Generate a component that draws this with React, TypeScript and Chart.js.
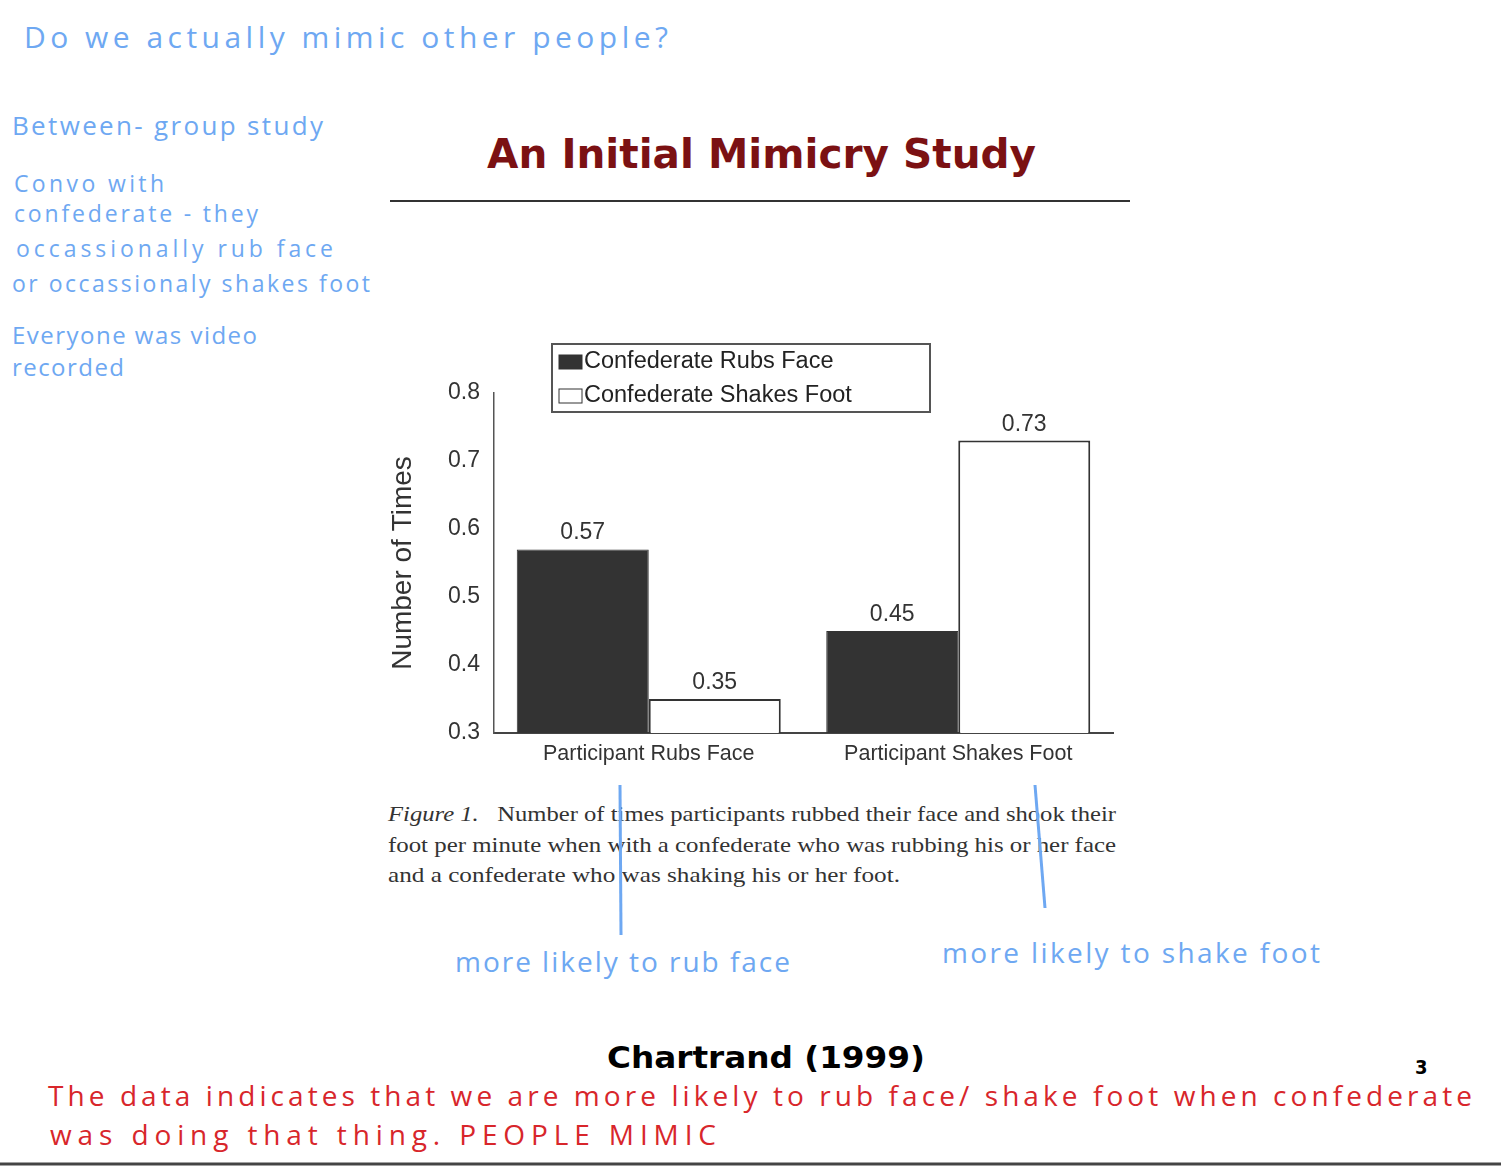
import React, { useEffect, useRef } from "react";
import { Chart, registerables } from "chart.js";

Chart.register(...registerables);

const categories = ["Participant Rubs Face", "Participant Shakes Foot"];
const seriesLabels = ["Confederate Rubs Face", "Confederate Shakes Foot"];
const rubsFaceValues = [0.57, 0.45];
const shakesFootValues = [0.35, 0.73];
const yMin = 0.3;
const yMax = 0.8;
const yStep = 0.1;
const yTitle = "Number of Times";

const BLUE = "#6ea8f2";
const RED = "#d8262b";
const SANS = "'Liberation Sans', Arial, sans-serif";

const legendPlugin = {
  id: "boxLegend",
  afterDraw(chart: any) {
    const ctx = chart.ctx;
    ctx.save();
    const x0 = 172, y0 = 14, w = 378, h = 68;
    ctx.strokeStyle = "#555";
    ctx.lineWidth = 2;
    ctx.strokeRect(x0, y0, w, h);
    ctx.font = `23.5px ${SANS}`;
    ctx.textBaseline = "middle";
    chart.data.datasets.forEach((ds: any, i: number) => {
      const cy = y0 + 18 + i * 34;
      ctx.fillStyle = ds.backgroundColor;
      ctx.fillRect(x0 + 7, cy - 7, 23, 14);
      ctx.strokeStyle = "#333";
      ctx.lineWidth = 1;
      ctx.strokeRect(x0 + 7, cy - 7, 23, 14);
      ctx.fillStyle = "#222";
      ctx.fillText(ds.label, x0 + 32, cy);
    });
    ctx.restore();
  },
};

const valueLabelPlugin = {
  id: "valueLabels",
  afterDatasetsDraw(chart: any) {
    const ctx = chart.ctx;
    ctx.save();
    ctx.font = `23px ${SANS}`;
    ctx.fillStyle = "#333";
    ctx.textAlign = "center";
    ctx.textBaseline = "alphabetic";
    chart.data.datasets.forEach((ds: any, di: number) => {
      const meta = chart.getDatasetMeta(di);
      meta.data.forEach((bar: any, i: number) => {
        ctx.fillText(Number(ds.data[i]).toFixed(2), bar.x, bar.y - 10);
      });
    });
    ctx.restore();
  },
};

function BarChart() {
  const ref = useRef<HTMLCanvasElement | null>(null);
  useEffect(() => {
    if (!ref.current) return;
    const chart = new Chart(ref.current, {
      type: "bar",
      data: {
        labels: categories,
        datasets: [
          {
            label: seriesLabels[0],
            data: rubsFaceValues,
            backgroundColor: "#333333",
            borderColor: "#333333",
            borderWidth: 1,
            barPercentage: 1,
            categoryPercentage: 0.853,
          },
          {
            label: seriesLabels[1],
            data: shakesFootValues,
            backgroundColor: "#ffffff",
            borderColor: "#333333",
            borderWidth: 2,
            barPercentage: 1,
            categoryPercentage: 0.853,
          },
        ],
      },
      options: {
        responsive: false,
        animation: false,
        layout: { padding: { top: 63, right: 27, left: 0, bottom: 0 } },
        plugins: {
          legend: { display: false },
          tooltip: { enabled: false },
          title: { display: false },
        },
        scales: {
          x: {
            grid: { display: false, drawTicks: false },
            border: { display: true, color: "#444", width: 2 },
            ticks: {
              padding: 8,
              color: "#333",
              font: { family: SANS, size: 21.5 },
            },
            afterFit(scale: any) {
              scale.height = 57;
            },
          },
          y: {
            min: yMin,
            max: yMax,
            grid: { display: false, drawTicks: false },
            border: { display: true, color: "#555", width: 1.5 },
            ticks: {
              stepSize: yStep,
              padding: 14,
              color: "#333",
              font: { family: SANS, size: 23 },
              callback: (v: any) => Number(v).toFixed(1),
            },
            title: {
              display: true,
              text: yTitle,
              color: "#333",
              padding: { top: 6, bottom: 0 },
              font: { family: SANS, size: 28 },
            },
            afterFit(scale: any) {
              scale.width = 114;
            },
          },
        },
      },
      plugins: [legendPlugin, valueLabelPlugin],
    } as any);
    return () => chart.destroy();
  }, []);
  return (
    <canvas
      ref={ref}
      width={760}
      height={460}
      style={{ position: "absolute", left: 380, top: 330, width: 760, height: 460 }}
    />
  );
}

type T = { t: string; x: number; y: number; len: number; size: number; color: string };

const hand = "'Open Sans', 'Noto Sans', sans-serif";

const notes: T[] = [
  { t: "Do we actually mimic other people?", x: 24, y: 48, len: 644, size: 30, color: BLUE },
  { t: "Between- group study", x: 12, y: 135, len: 311, size: 26, color: BLUE },
  { t: "Convo with", x: 14, y: 192, len: 150, size: 23, color: BLUE },
  { t: "confederate - they", x: 14, y: 222, len: 244, size: 23, color: BLUE },
  { t: "occassionally rub face", x: 16, y: 257, len: 317, size: 23, color: BLUE },
  { t: "or occassionaly shakes foot", x: 12, y: 292, len: 358, size: 23, color: BLUE },
  { t: "Everyone was video", x: 12, y: 344, len: 245, size: 24, color: BLUE },
  { t: "recorded", x: 12, y: 376, len: 112, size: 24, color: BLUE },
  { t: "more likely to rub face", x: 455, y: 972, len: 335, size: 28, color: BLUE },
  { t: "more likely to shake foot", x: 942, y: 963, len: 378, size: 28, color: BLUE },
  { t: "The data indicates that we are more likely to rub face/ shake foot when confederate", x: 48, y: 1106, len: 1424, size: 28, color: RED },
  { t: "was doing that thing. PEOPLE MIMIC", x: 50, y: 1145, len: 666, size: 28, color: RED },
];

export default function App() {
  return (
    <div style={{ position: "absolute", left: 0, top: 0, width: 1501, height: 1166, background: "#fff", overflow: "hidden" }}>
      <svg width={1501} height={1166} style={{ position: "absolute", left: 0, top: 0 }}>
        <text x={487} y={168} textLength={549} lengthAdjust="spacingAndGlyphs" fill="#7b1113"
          style={{ font: "bold 40px 'DejaVu Sans', Verdana, sans-serif" }}>An Initial Mimicry Study</text>
        <line x1={390} y1={201} x2={1130} y2={201} stroke="#333" strokeWidth={2} />
        <text x={388} y={821} textLength={728} lengthAdjust="spacingAndGlyphs" fill="#333"
          style={{ font: "21px 'Liberation Serif', 'Times New Roman', serif" }}>
          <tspan fontStyle="italic">Figure 1.</tspan>
          <tspan>{"\u00a0\u00a0\u00a0Number of times participants rubbed their face and shook their"}</tspan>
        </text>
        <text x={388} y={852} textLength={728} lengthAdjust="spacingAndGlyphs" fill="#333"
          style={{ font: "21px 'Liberation Serif', 'Times New Roman', serif" }}>foot per minute when with a confederate who was rubbing his or her face</text>
        <text x={388} y={882} textLength={512} lengthAdjust="spacingAndGlyphs" fill="#333"
          style={{ font: "21px 'Liberation Serif', 'Times New Roman', serif" }}>and a confederate who was shaking his or her foot.</text>
        <text x={607} y={1068} textLength={318} lengthAdjust="spacingAndGlyphs" fill="#000"
          style={{ font: "bold 31px 'DejaVu Sans Condensed', 'DejaVu Sans', sans-serif" }}>Chartrand (1999)</text>
        <text x={1415} y={1074} fill="#000" style={{ font: "bold 20px 'DejaVu Sans Condensed', sans-serif" }}>3</text>
        {notes.map((n, i) => (
          <text key={i} x={n.x} y={n.y} textLength={n.len} lengthAdjust="spacing" fill={n.color}
            style={{ font: `${n.size}px ${hand}` }}>{n.t}</text>
        ))}
        <line x1={0} y1={1164} x2={1501} y2={1164} stroke="#444" strokeWidth={3} />
      </svg>
      <BarChart />
      <svg width={1501} height={1166} style={{ position: "absolute", left: 0, top: 0, pointerEvents: "none" }}>
        <line x1={620} y1={785} x2={621} y2={935} stroke={BLUE} strokeWidth={3} />
        <line x1={1035} y1={785} x2={1045} y2={908} stroke={BLUE} strokeWidth={3} />
      </svg>
    </div>
  );
}
